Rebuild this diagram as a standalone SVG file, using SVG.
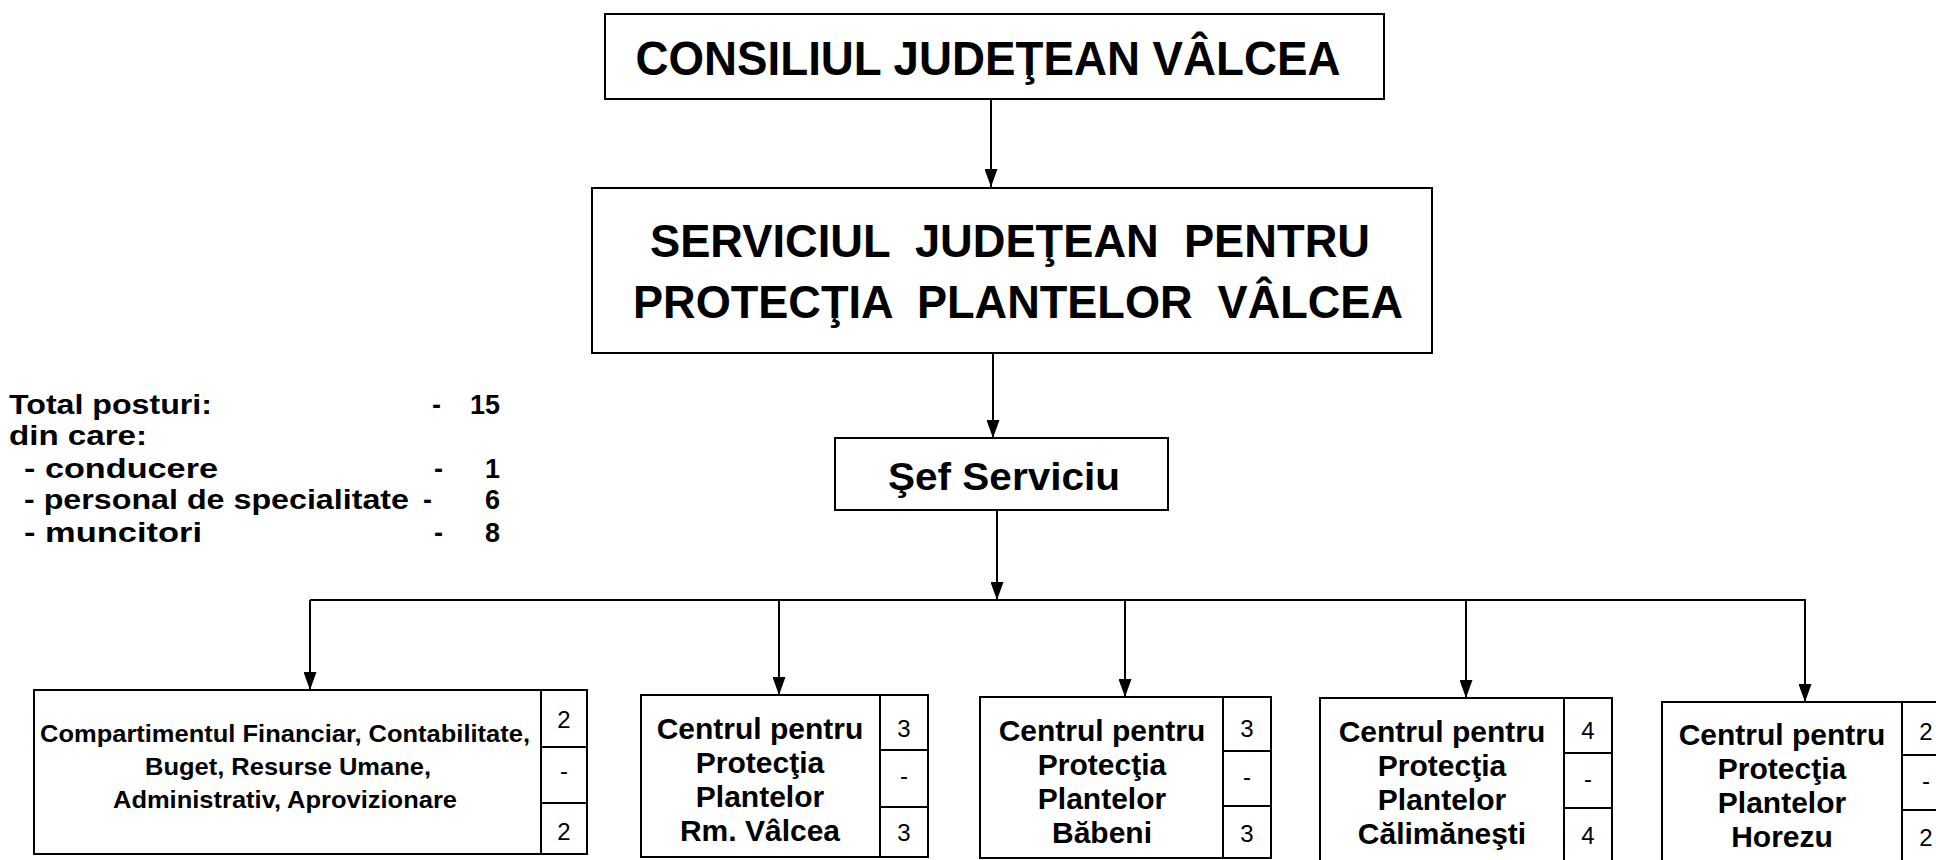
<svg xmlns="http://www.w3.org/2000/svg" width="1936" height="860" viewBox="0 0 1936 860">
<style>
.box{fill:#fff;stroke:#000;stroke-width:2}
.ln{fill:none;stroke:#000;stroke-width:2}
.t{font-family:"Liberation Sans",Arial,sans-serif;font-weight:bold;fill:#000}
.c{text-anchor:middle}
.h1{font-size:48px}
.h2{font-size:46px}
.b{font-size:30px}
.s{font-size:24px}
.l{font-size:27px}
.n{font-family:"Liberation Sans",Arial,sans-serif;font-weight:normal;font-size:24px;text-anchor:middle;fill:#000}
</style>
<defs>
<marker id="arr" markerUnits="userSpaceOnUse" viewBox="0 0 18 13" markerWidth="18" markerHeight="13" refX="18" refY="6.5" orient="auto">
<path d="M0,0 L18,6.5 L0,13 z" fill="#000"/>
</marker>
</defs>
<rect width="1936" height="860" fill="#fff"/>

<g id="connectors">
<line class="ln" x1="991" y1="99" x2="991" y2="187" marker-end="url(#arr)"/>
<line class="ln" x1="993" y1="353" x2="993" y2="438" marker-end="url(#arr)"/>
<line class="ln" x1="997" y1="510" x2="997" y2="600" marker-end="url(#arr)"/>
<line class="ln" x1="310" y1="600" x2="1806" y2="600"/>
<line class="ln" x1="310" y1="600" x2="310" y2="690" marker-end="url(#arr)"/>
<line class="ln" x1="779" y1="600" x2="779" y2="695" marker-end="url(#arr)"/>
<line class="ln" x1="1125" y1="600" x2="1125" y2="697" marker-end="url(#arr)"/>
<line class="ln" x1="1466" y1="600" x2="1466" y2="698" marker-end="url(#arr)"/>
<line class="ln" x1="1805" y1="600" x2="1805" y2="702" marker-end="url(#arr)"/>
</g>

<g id="consiliul">
<rect class="box" x="605" y="14" width="779" height="85"/>
<text class="t h1 c" x="988" y="75" textLength="705" lengthAdjust="spacingAndGlyphs">CONSILIUL JUDEŢEAN VÂLCEA</text>
</g>

<g id="serviciul">
<rect class="box" x="592" y="188" width="840" height="165"/>
<text class="t h2 c" x="1010" y="257" xml:space="preserve" textLength="720" lengthAdjust="spacingAndGlyphs">SERVICIUL  JUDEŢEAN  PENTRU</text>
<text class="t h2 c" x="1018" y="318" xml:space="preserve" textLength="770" lengthAdjust="spacingAndGlyphs">PROTECŢIA  PLANTELOR  VÂLCEA</text>
</g>

<g id="sef">
<rect class="box" x="835" y="438" width="333" height="72"/>
<text class="t c" style="font-size:38px" x="1004" y="490" textLength="232" lengthAdjust="spacingAndGlyphs">Şef Serviciu</text>
</g>

<g id="posturi">
<text class="t l" x="9" y="414" textLength="203" lengthAdjust="spacingAndGlyphs">Total posturi:</text>
<text class="t l" x="432" y="414">-</text>
<text class="t l" x="500" y="414" text-anchor="end">15</text>
<text class="t l" x="9" y="445" textLength="138" lengthAdjust="spacingAndGlyphs">din care:</text>
<text class="t l" x="24" y="478" textLength="194" lengthAdjust="spacingAndGlyphs">- conducere</text>
<text class="t l" x="434" y="478">-</text>
<text class="t l" x="500" y="478" text-anchor="end">1</text>
<text class="t l" x="24" y="509" textLength="385" lengthAdjust="spacingAndGlyphs">- personal de specialitate</text>
<text class="t l" x="423" y="509">-</text>
<text class="t l" x="500" y="509" text-anchor="end">6</text>
<text class="t l" x="24" y="542" textLength="178" lengthAdjust="spacingAndGlyphs">- muncitori</text>
<text class="t l" x="434" y="542">-</text>
<text class="t l" x="500" y="542" text-anchor="end">8</text>
</g>

<g id="compartiment">
<rect class="box" x="34" y="690" width="553" height="164"/>
<line class="ln" x1="541" y1="690" x2="541" y2="854"/>
<line class="ln" x1="541" y1="747" x2="587" y2="747"/>
<line class="ln" x1="541" y1="803" x2="587" y2="803"/>
<text class="t s c" x="285" y="742" textLength="490" lengthAdjust="spacingAndGlyphs">Compartimentul Financiar, Contabilitate,</text>
<text class="t s c" x="288" y="775" textLength="286" lengthAdjust="spacingAndGlyphs">Buget, Resurse Umane,</text>
<text class="t s c" x="285" y="808" textLength="344" lengthAdjust="spacingAndGlyphs">Administrativ, Aprovizionare</text>
<text class="n" x="564" y="728">2</text>
<text class="n" x="564" y="779">-</text>
<text class="n" x="564" y="840">2</text>
</g>

<g id="centru-rm-valcea">
<rect class="box" x="641" y="695" width="287" height="162"/>
<line class="ln" x1="880" y1="695" x2="880" y2="857"/>
<line class="ln" x1="880" y1="750" x2="928" y2="750"/>
<line class="ln" x1="880" y1="807" x2="928" y2="807"/>
<text class="t b c" x="760" y="739">Centrul pentru</text>
<text class="t b c" x="760" y="773">Protecţia</text>
<text class="t b c" x="760" y="807">Plantelor</text>
<text class="t b c" x="760" y="841">Rm. Vâlcea</text>
<text class="n" x="904" y="737">3</text>
<text class="n" x="904" y="784">-</text>
<text class="n" x="904" y="841">3</text>
</g>

<g id="centru-babeni">
<rect class="box" x="980" y="697" width="291" height="161"/>
<line class="ln" x1="1223" y1="697" x2="1223" y2="858"/>
<line class="ln" x1="1223" y1="751" x2="1271" y2="751"/>
<line class="ln" x1="1223" y1="806" x2="1271" y2="806"/>
<text class="t b c" x="1102" y="741">Centrul pentru</text>
<text class="t b c" x="1102" y="775">Protecţia</text>
<text class="t b c" x="1102" y="809">Plantelor</text>
<text class="t b c" x="1102" y="843">Băbeni</text>
<text class="n" x="1247" y="737">3</text>
<text class="n" x="1247" y="785">-</text>
<text class="n" x="1247" y="842">3</text>
</g>

<g id="centru-calimanesti">
<rect class="box" x="1320" y="698" width="292" height="164"/>
<line class="ln" x1="1564" y1="698" x2="1564" y2="862"/>
<line class="ln" x1="1564" y1="753" x2="1612" y2="753"/>
<line class="ln" x1="1564" y1="808" x2="1612" y2="808"/>
<text class="t b c" x="1442" y="742">Centrul pentru</text>
<text class="t b c" x="1442" y="776">Protecţia</text>
<text class="t b c" x="1442" y="810">Plantelor</text>
<text class="t b c" x="1442" y="844">Călimăneşti</text>
<text class="n" x="1588" y="739">4</text>
<text class="n" x="1588" y="787">-</text>
<text class="n" x="1588" y="844">4</text>
</g>

<g id="centru-horezu">
<rect class="box" x="1662" y="702" width="290" height="164"/>
<line class="ln" x1="1902" y1="702" x2="1902" y2="866"/>
<line class="ln" x1="1902" y1="755" x2="1952" y2="755"/>
<line class="ln" x1="1902" y1="810" x2="1952" y2="810"/>
<text class="t b c" x="1782" y="745">Centrul pentru</text>
<text class="t b c" x="1782" y="779">Protecţia</text>
<text class="t b c" x="1782" y="813">Plantelor</text>
<text class="t b c" x="1782" y="847">Horezu</text>
<text class="n" x="1926" y="740">2</text>
<text class="n" x="1926" y="789">-</text>
<text class="n" x="1926" y="846">2</text>
</g>
</svg>
